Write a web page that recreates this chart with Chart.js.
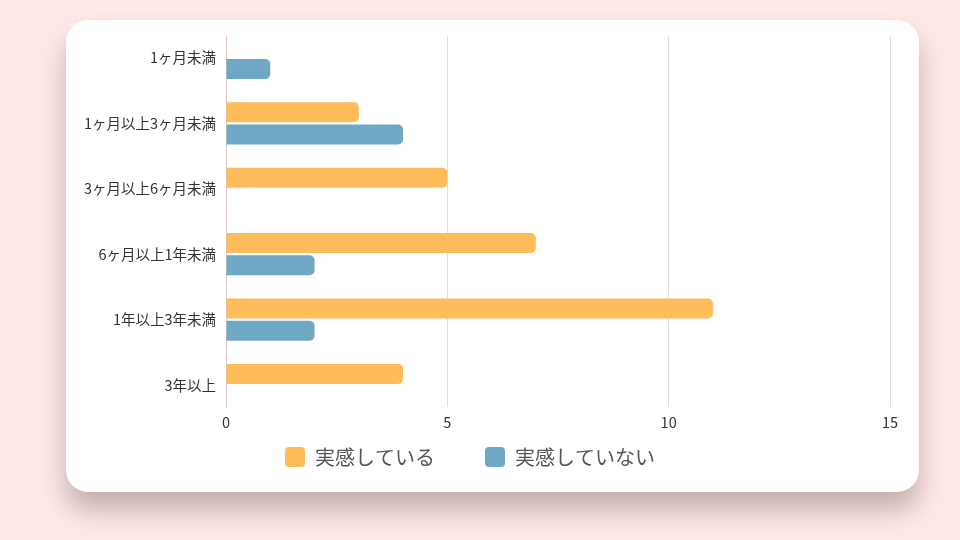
<!DOCTYPE html>
<html lang="ja">
<head>
<meta charset="utf-8">
<script src="https://cdn.jsdelivr.net/npm/chart.js@4"></script>
<style>
  html, body { margin: 0; padding: 0; }
  body { width: 960px; height: 540px; background: #ffe8e8; position: relative; overflow: hidden; }
  .card {
    position: absolute; left: 66px; top: 20px; width: 853px; height: 472px;
    background: #fff; border-radius: 22px;
    box-shadow: 0 18px 26px rgba(90, 70, 70, 0.35);
  }
  #myChart { position: absolute; left: 0; top: 0; }
</style>
</head>
<body>
<div class="card"></div>
<canvas id="myChart" width="960" height="540"></canvas>
<script>
// 勤続期間ごとの回答数
var kikan = ['1ヶ月未満', '1ヶ月以上3ヶ月未満', '3ヶ月以上6ヶ月未満', '6ヶ月以上1年未満', '1年以上3年未満', '3年以上'];
var jikkanAri = [0, 3, 5, 7, 11, 4];
var jikkanNashi = [1, 4, 0, 2, 2, 0];
var xTicks = [0, 5, 10, 15];

var fontJP = "'Noto Sans CJK JP', 'Noto Sans', sans-serif";

function toPoints(values){
    return values.map(function(v, i){ return {x: v, y: i}; });
}

function createChart(){
    var ctx = document.getElementById('myChart').getContext('2d');
    var chart = new Chart(ctx, {
        type: 'bar',
        data: {
            datasets: [{
                label: '実感している',
                data: toPoints(jikkanAri),
                backgroundColor: '#ffbc5b',
                borderRadius: 5,
                borderSkipped: 'start'
            },{
                label: '実感していない',
                data: toPoints(jikkanNashi),
                backgroundColor: '#6fa8c4',
                borderRadius: 5,
                borderSkipped: 'start'
            }]
        },
        options: {
            indexAxis: 'y',
            responsive: false,
            animation: false,
            categoryPercentage: 0.68,
            barPercentage: 0.9,
            layout: { padding: { left: 50, right: 70, top: 36, bottom: 63 } },
            scales: {
                x: {
                    min: 0,
                    max: 15,
                    afterBuildTicks: function(s){ s.ticks = xTicks.map(function(v){ return {value: v}; }); },
                    afterFit: function(s){ s.height = 30; },
                    grid: { color: '#dedede', drawTicks: false },
                    border: { display: false },
                    ticks: { padding: 7, color: '#333', font: { family: fontJP, size: 14.5 } }
                },
                y: {
                    type: 'linear',
                    reverse: true,
                    offset: false,
                    min: -0.336,
                    max: 5.336,
                    afterBuildTicks: function(s){ s.ticks = kikan.map(function(_, i){ return {value: i}; }); },
                    afterFit: function(s){ s.width = 176; },
                    grid: { display: false, drawTicks: false, offset: false },
                    border: { display: true, color: '#dcc6c6' },
                    ticks: {
                        padding: 10,
                        color: '#333',
                        font: { family: fontJP, size: 14.5 },
                        callback: function(v){ return kikan[v]; }
                    }
                }
            },
            plugins: {
                tooltip: { enabled: false },
                legend: {
                    position: 'bottom',
                    labels: {
                        boxWidth: 20,
                        boxHeight: 20,
                        useBorderRadius: true,
                        borderRadius: 4,
                        padding: 10,
                        color: '#555',
                        font: { family: fontJP, size: 20 },
                        generateLabels: function(c){
                            var items = Chart.defaults.plugins.legend.labels.generateLabels(c);
                            // 凡例の間隔を広げる
                            items.forEach(function(it, i){
                                if (i < items.length - 1) it.text = it.text + '\u3000\u3000';
                            });
                            return items;
                        }
                    }
                }
            }
        }
    });
    return chart;
}

createChart();
</script>
</body>
</html>
